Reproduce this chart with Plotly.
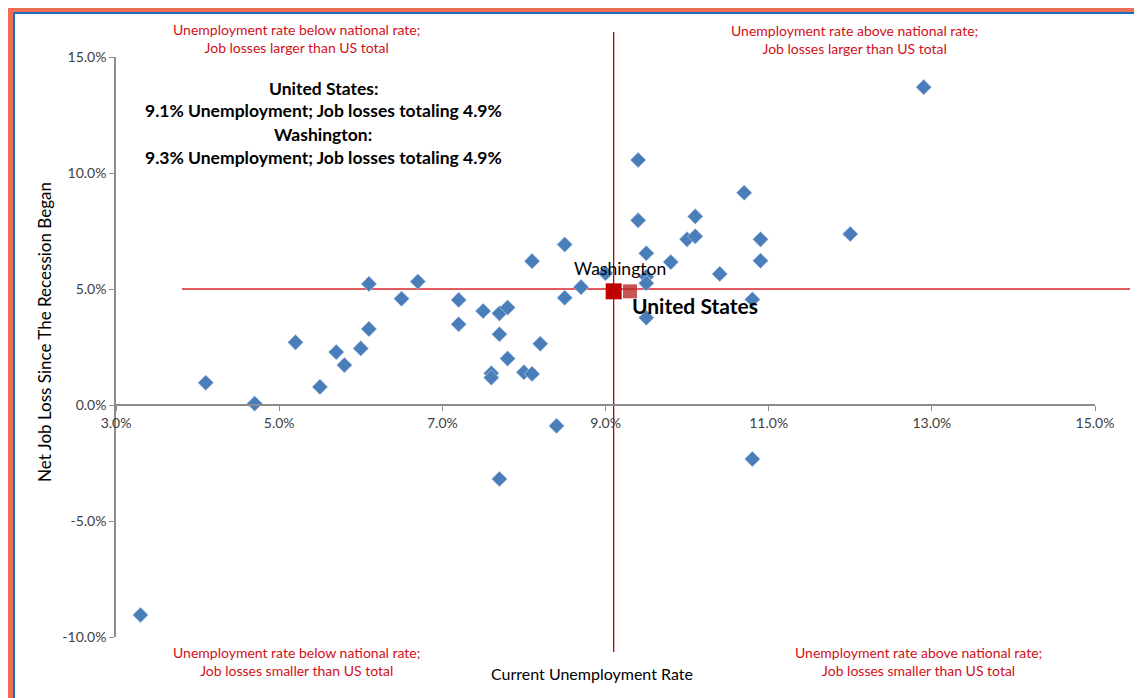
import plotly.graph_objects as go

# ---- data (percent) ----
unemployment = [4.1, 4.7, 5.2, 5.5, 5.7, 5.8, 6.0, 6.1, 6.1, 6.5, 6.7,
                7.2, 7.2, 7.5, 7.7, 7.8, 7.7, 7.6, 7.6, 7.8, 8.0, 8.1, 8.1, 8.2,
                8.4, 7.7, 8.5, 8.5, 8.7, 9.0,
                9.4, 9.4, 9.5, 9.5, 9.5, 9.5, 9.8, 10.0, 10.1, 10.1, 10.7, 10.4,
                10.8, 10.8, 10.9, 10.9, 12.0, 12.9, 3.3]
job_loss = [0.96, 0.06, 2.70, 0.78, 2.28, 1.72, 2.44, 3.28, 5.22, 4.58, 5.32,
            4.53, 3.48, 4.05, 3.95, 4.20, 3.05, 1.37, 1.18, 2.00, 1.41, 1.34, 6.20, 2.64,
            -0.90, -3.19, 6.92, 4.62, 5.08, 5.68,
            10.56, 7.96, 6.54, 5.53, 5.25, 3.76, 6.16, 7.14, 7.27, 8.13, 9.15, 5.65,
            4.55, -2.33, 7.14, 6.22, 7.37, 13.70, -9.05]

us_rate, us_loss = 9.1, 4.9
wa_rate, wa_loss = 9.3, 4.9
h_line_value = 5.0

x_ticks = [3, 5, 7, 9, 11, 13, 15]
x_tick_labels = ["3.0%", "5.0%", "7.0%", "9.0%", "11.0%", "13.0%", "15.0%"]
y_ticks = [-10, -5, 0, 5, 10, 15]
y_tick_labels = ["-10.0%", "-5.0%", "0.0%", "5.0%", "10.0%", "15.0%"]

quadrant_labels = [
    "Unemployment rate below national rate;<br>Job losses larger than US total",
    "Unemployment rate above national rate;<br>Job losses larger than US total",
    "Unemployment rate below national rate;<br>Job losses smaller than US total",
    "Unemployment rate above national rate;<br>Job losses smaller than US total",
]
summary_lines = [
    "United States:",
    "9.1% Unemployment; Job losses totaling 4.9%",
    "Washington:",
    "9.3% Unemployment; Job losses totaling 4.9%",
]

# ---- layout geometry (page pixels; page body has an 8px margin) ----
OFF = 8
W, H = 1142 - OFF, 698 - OFF
L, R, T, B = 116, 1095, 57, 637          # plot area in page pixels
PW, PH = R - L, B - T


def px(xp):
    return (xp - L) / PW


def py(yp):
    return (B - yp) / PH


FONT = "Lato"
RED = "#D0101A"

fig = go.Figure()

fig.add_trace(go.Scatter(
    x=unemployment, y=job_loss, mode="markers",
    marker=dict(symbol="diamond", size=12, color="#4A7EBB",
                line=dict(width=0.6, color="#C8D6EA")),
    cliponaxis=False, showlegend=False, hoverinfo="x+y"))

fig.add_trace(go.Scatter(
    x=[us_rate], y=[us_loss], mode="markers",
    marker=dict(symbol="square", size=16, color="#C00000"),
    showlegend=False))
fig.add_trace(go.Scatter(
    x=[wa_rate], y=[wa_loss], mode="markers",
    marker=dict(symbol="square", size=14, color="rgba(185,40,40,0.8)"),
    showlegend=False))

shapes = [
    dict(type="line", xref="x", yref="paper", x0=us_rate, x1=us_rate,
         y0=py(652), y1=py(32), line=dict(color="#C00000", width=1.3), layer="below"),
    dict(type="line", xref="paper", yref="y", x0=px(182), x1=px(1130),
         y0=h_line_value, y1=h_line_value, line=dict(color="#D8262E", width=1.5), layer="below"),
    # frame stripes at the figure's top and left edges
    dict(type="rect", xref="paper", yref="paper", x0=px(OFF), x1=px(1142), y0=py(OFF + 4), y1=py(OFF),
         fillcolor="#EE7054", line=dict(width=0), layer="above"),
    dict(type="rect", xref="paper", yref="paper", x0=px(OFF), x1=px(1142), y0=py(OFF + 6), y1=py(OFF + 4),
         fillcolor="#1A6FBF", line=dict(width=0), layer="above"),
    dict(type="rect", xref="paper", yref="paper", x0=px(OFF), x1=px(OFF + 5), y0=py(698), y1=py(OFF),
         fillcolor="#EE7054", line=dict(width=0), layer="above"),
    dict(type="rect", xref="paper", yref="paper", x0=px(OFF + 5), x1=px(OFF + 7), y0=py(698), y1=py(OFF + 4),
         fillcolor="#1A6FBF", line=dict(width=0), layer="above"),
]

annotations = []
quad_pos = [(296, 38), (854, 39), (296, 661), (918, 661)]
for txt, (xx, yy) in zip(quadrant_labels, quad_pos):
    annotations.append(dict(xref="paper", yref="paper", x=px(xx), y=py(yy), text=txt,
                            showarrow=False, align="center", xanchor="center", yanchor="middle",
                            font=dict(family=FONT, size=14, color=RED)))
for txt, yy in zip(summary_lines, [88, 111, 134, 157]):
    annotations.append(dict(xref="paper", yref="paper", x=px(323), y=py(yy), text="<b>%s</b>" % txt,
                            showarrow=False, xanchor="center", yanchor="middle",
                            font=dict(family=FONT, size=17.5, color="#000000")))
annotations.append(dict(x=wa_rate, y=wa_loss, xref="x", yref="y", text="Washington",
                        showarrow=False, xanchor="center", yanchor="middle",
                        xshift=-10, yshift=23, font=dict(family=FONT, size=17.5, color="#000000")))
annotations.append(dict(x=us_rate, y=us_loss, xref="x", yref="y", text="<b>United States</b>",
                        showarrow=False, xanchor="left", yanchor="middle",
                        xshift=16, yshift=-14, font=dict(family=FONT, size=21, color="#000000")))
annotations.append(dict(xref="paper", yref="paper", x=px(592), y=py(673),
                        text="Current Unemployment Rate", showarrow=False,
                        xanchor="center", yanchor="middle",
                        font=dict(family=FONT, size=16, color="#000000")))
annotations.append(dict(xref="paper", yref="paper", x=px(44), y=py(332),
                        text="Net Job Loss Since The Recession Began", showarrow=False,
                        textangle=-90, xanchor="center", yanchor="middle",
                        font=dict(family=FONT, size=17, color="#000000")))

axis_common = dict(showgrid=False, zeroline=False, showline=True, linecolor="#8C8C8C",
                   linewidth=1.5, ticks="outside", ticklen=5, tickcolor="#8C8C8C",
                   tickfont=dict(family=FONT, size=14, color="#404040"))

fig.update_layout(
    width=W, height=H,
    margin=dict(l=L - OFF, r=1142 - R, t=T - OFF, b=698 - B, autoexpand=False),
    paper_bgcolor="white", plot_bgcolor="white",
    xaxis=dict(range=[3, 15], tickvals=x_ticks, ticktext=x_tick_labels,
               anchor="free", position=10 / 25, domain=[0, 1], **axis_common),
    yaxis=dict(range=[-10, 15], tickvals=y_ticks, ticktext=y_tick_labels,
               domain=[0, 1], **axis_common),
    shapes=shapes, annotations=annotations, showlegend=False,
)

fig.write_html("out.html")
